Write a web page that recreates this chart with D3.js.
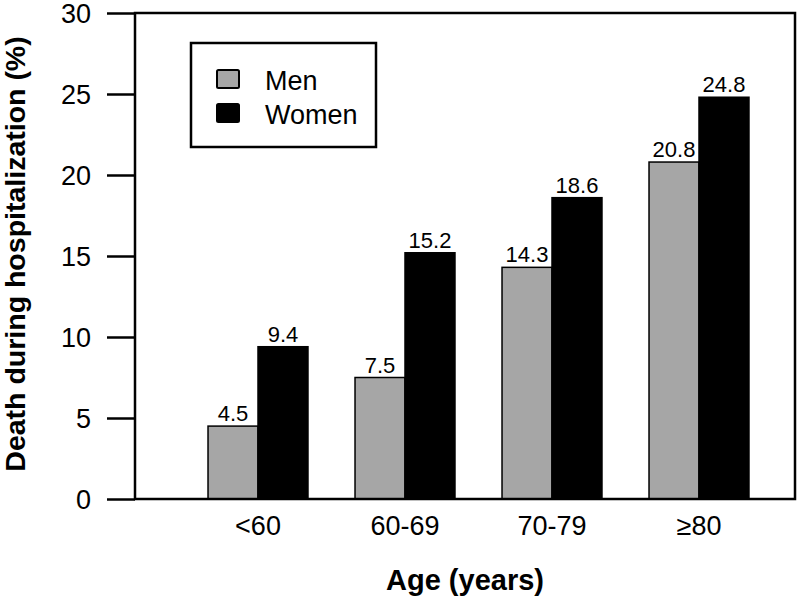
<!DOCTYPE html>
<html>
<head>
<meta charset="utf-8">
<script src="https://cdn.jsdelivr.net/npm/d3@7"></script>
<style>
  body { margin: 0; background: #fff; }
  text { font-family: Arial, "Liberation Sans", sans-serif; fill: #000; }
</style>
</head>
<body>
<svg id="chart" width="800" height="599"></svg>
<script>
const categories = ["<60", "60-69", "70-79", "\u226580"];
const seriesNames = ["Men", "Women"];
const menValues = [4.5, 7.5, 14.3, 20.8];
const womenValues = [9.4, 15.2, 18.6, 24.8];
const yTicks = [0, 5, 10, 15, 20, 25, 30];
const seriesColors = ["#a6a6a6", "#000000"];

const svg = d3.select("#chart");
const box = { left: 135, right: 795, top: 13, bottom: 499 };
const FONT = "Arial, 'Liberation Sans', sans-serif";

const y = d3.scaleLinear().domain([0, 30]).range([box.bottom, box.top]);
const x = d3.scaleBand().domain(categories).range([184.5, 772.5])
  .paddingInner(0.32).paddingOuter(0.16);
const xs = d3.scaleBand().domain(seriesNames).range([0, x.bandwidth()]);

const data = categories.map((c, i) => ({ cat: c, vals: [menValues[i], womenValues[i]] }));

// bars
const groups = svg.append("g").selectAll("g").data(data).join("g")
  .attr("transform", d => `translate(${x(d.cat)},0)`);
groups.selectAll("rect").data(d => d.vals.map((v, j) => ({ v, s: seriesNames[j], j })))
  .join("rect")
  .attr("x", d => xs(d.s))
  .attr("y", d => y(d.v))
  .attr("width", xs.bandwidth())
  .attr("height", d => y(0) - y(d.v))
  .attr("fill", d => seriesColors[d.j])
  .attr("stroke", "#000")
  .attr("stroke-width", 1.5);
groups.selectAll("text").data(d => d.vals.map((v, j) => ({ v, s: seriesNames[j] })))
  .join("text")
  .attr("x", d => xs(d.s) + xs.bandwidth() / 2)
  .attr("y", d => y(d.v) - 5)
  .attr("text-anchor", "middle")
  .attr("font-size", 22)
  .text(d => d.v.toFixed(1));

// frame
svg.append("rect")
  .attr("x", box.left).attr("y", box.top)
  .attr("width", box.right - box.left).attr("height", box.bottom - box.top)
  .attr("fill", "none").attr("stroke", "#000").attr("stroke-width", 2.5);

// y axis
const yAxis = d3.axisLeft(y).tickValues(yTicks).tickSize(28).tickPadding(16);
const yg = svg.append("g").attr("transform", `translate(${box.left},0)`).call(yAxis);
yg.select(".domain").remove();
yg.selectAll(".tick line").attr("stroke", "#000").attr("stroke-width", 2.5);
yg.selectAll(".tick text").attr("font-size", 27).attr("font-family", FONT).attr("dy", "0.36em");

// x axis labels
const xg = svg.append("g").attr("transform", `translate(0,${box.bottom})`)
  .call(d3.axisBottom(x).tickSize(0).tickPadding(17));
xg.select(".domain").remove();
xg.selectAll(".tick text").attr("font-size", 27).attr("font-family", FONT);

// titles
svg.append("text")
  .attr("x", 465).attr("y", 590)
  .attr("text-anchor", "middle")
  .attr("font-size", 29).attr("font-weight", "bold")
  .text("Age (years)");
svg.append("text")
  .attr("transform", "translate(25,254) rotate(-90)")
  .attr("text-anchor", "middle")
  .attr("font-size", 28.5).attr("font-weight", "bold")
  .text("Death during hospitalization (%)");

// legend
const lg = svg.append("g");
lg.append("rect").attr("x", 191).attr("y", 43).attr("width", 185).attr("height", 104)
  .attr("fill", "#fff").attr("stroke", "#000").attr("stroke-width", 2.5);
seriesNames.forEach((s, i) => {
  lg.append("rect").attr("x", 217).attr("y", 70 + i * 34).attr("width", 22).attr("height", 18)
    .attr("fill", seriesColors[i]).attr("stroke", "#000").attr("stroke-width", 2).attr("rx", 1.5);
  lg.append("text").attr("x", 265).attr("y", 90 + i * 34)
    .attr("font-size", 27).text(s);
});
</script>
</body>
</html>
